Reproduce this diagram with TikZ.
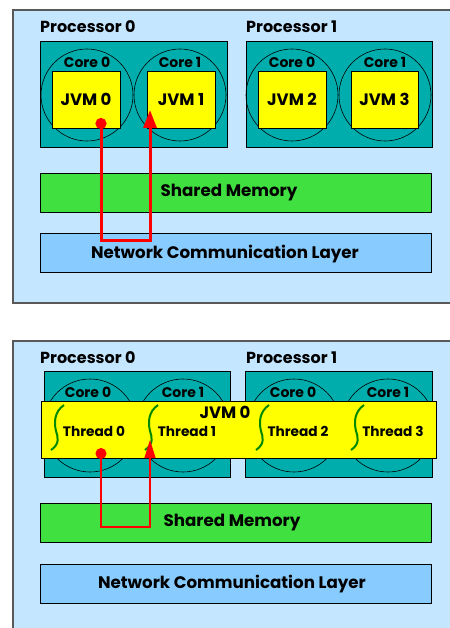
\documentclass[tikz,border=0pt]{standalone}
\usepackage{fontspec}
\setmainfont{Poppins}
\usetikzlibrary{arrows.meta,positioning}
\definecolor{panel}{HTML}{C4E6FF}
\definecolor{proc}{HTML}{00ADAD}
\definecolor{jvm}{HTML}{FFFF00}
\definecolor{shmem}{HTML}{40E040}
\definecolor{netw}{HTML}{88CCFF}
\definecolor{thr}{HTML}{008800}
\definecolor{msgred}{HTML}{FF0000}
\tikzset{
  panelbox/.style={draw=black!65, fill=panel, line width=1.3pt},
  procbox/.style={draw=black, fill=proc, line width=0.7pt, minimum height=106pt, inner sep=0pt},
  corecirc/.style={circle, draw=black, line width=0.6pt, minimum size=92pt, inner sep=0pt},
  jvmbox/.style={draw=black, fill=jvm, line width=0.8pt, minimum height=57pt, inner sep=0pt},
  layer/.style={draw=black, line width=0.8pt, minimum width=391pt, minimum height=39pt, inner sep=0pt},
  proclab/.style={anchor=west, inner sep=0pt, font=\fontsize{16}{19}\selectfont\bfseries},
  corelab/.style={inner sep=0pt, font=\fontsize{14}{16}\selectfont\bfseries},
  jvmlab/.style={inner sep=0pt, font=\fontsize{16.5}{19}\selectfont\bfseries},
  thrlab/.style={inner sep=0pt, font=\fontsize{13.7}{16}\selectfont\bfseries},
  laylab/.style={inner sep=0pt, font=\fontsize{16.7}{19}\selectfont\bfseries},
  msg/.style={draw=msgred, line width=3pt, {Circle[length=11pt,width=11pt]}-{Triangle[length=18pt,width=13pt]}},
  thinmsg/.style={draw=msgred, line width=1.3pt, {Circle[length=11pt,width=11pt]}-{Triangle[length=18pt,width=11pt]}},
  thread/.style={draw=thr, line width=2pt}
}

\begin{document}
\begin{tikzpicture}[x=1pt, y=-1pt]
  \useasboundingbox (0,0) rectangle (449,628);

  % ---- upper panel: one JVM per core
  \draw[panelbox] (13,10) rectangle (470,303);
  \node[proclab] (p0lab) at (40,27) {Processor 0};
  \node[proclab] (p1lab) at (246,27) {Processor 1};
  \node[procbox, minimum width=187pt] (p0) at (133.5,94) {};
  \node[procbox, minimum width=186pt] (p1) at (339,94) {};

  \foreach \x/\n in {87/a,180/b,292/c,385/d}
    \node[corecirc] (core\n) at (\x,95) {};
  \node[corelab] at (87,62) {Core 0};
  \node[corelab] at (180,62) {Core 1};
  \node[corelab] at (292,62) {Core 0};
  \node[corelab] at (385,62) {Core 1};

  \node[jvmbox, minimum width=68pt] (jvm0) at (86,99.5) {};
  \node[jvmbox, minimum width=68pt] (jvm1) at (181,99.5) {};
  \node[jvmbox, minimum width=68pt] (jvm2) at (292,99.5) {};
  \node[jvmbox, minimum width=67pt] (jvm3) at (384.5,99.5) {};
  \node[jvmlab] at (jvm0) {JVM 0};
  \node[jvmlab] at (jvm1) {JVM 1};
  \node[jvmlab] at (jvm2) {JVM 2};
  \node[jvmlab] at (jvm3) {JVM 3};

  \node[layer, fill=shmem] (mem) at (235.5,192.5) {};
  \node[laylab] at (229,193) {Shared Memory};
  \node[layer, fill=netw] (net) at (235.5,253) {};
  \node[laylab] at (225,254) {Network Communication Layer};

  \coordinate (src) at (101,118);
  \coordinate (dst) at (150,110);
  \draw[msg] (src) -- ++(0,122) -| (dst);

  % ---- lower panel: one JVM, one thread per core
  \draw[panelbox] (13,341) rectangle (470,640);
  \node[proclab] (q0lab) at (40,358) {Processor 0};
  \node[proclab] (q1lab) at (246,358) {Processor 1};
  \node[procbox, minimum width=186pt] (q0) at (137,424) {};
  \node[procbox, minimum width=187pt] (q1) at (338.5,424) {};

  \foreach \x/\n in {90/a,183/b,294/c,388/d}
    \node[corecirc, minimum size=93pt] (qcore\n) at (\x,425.5) {};
  \node[corelab] at (88,392) {Core 0};
  \node[corelab] at (183,392) {Core 1};
  \node[corelab] at (293,392) {Core 0};
  \node[corelab] at (388,392) {Core 1};

  \node[jvmbox, minimum width=395pt] (bigjvm) at (238.5,429.5) {};
  \node[jvmlab] at (225,412) {JVM 0};
  \node[thrlab] (t0) at (94,431) {Thread 0};
  \node[thrlab] (t1) at (187,431) {Thread 1};
  \node[thrlab] (t2) at (298,431) {Thread 2};
  \node[thrlab] (t3) at (393,431) {Thread 3};
  \foreach \x in {64,158,269,364}
    \draw[thread] (\x,405) .. controls +(-10,7) and +(-2,-8) .. ++(-8,26)
                           .. controls +(2,6) and +(9,-6) .. ++(-5,19);

  \node[layer, fill=shmem] (qmem) at (235.5,522.5) {};
  \node[laylab] at (232,523) {Shared Memory};
  \node[layer, fill=netw] (qnet) at (235.5,583.5) {};
  \node[laylab] at (232,584) {Network Communication Layer};

  \coordinate (qsrc) at (101,448);
  \coordinate (qdst) at (150,440);
  \draw[thinmsg] (qsrc) -- ++(0,79) -| (qdst);
\end{tikzpicture}
\end{document}
